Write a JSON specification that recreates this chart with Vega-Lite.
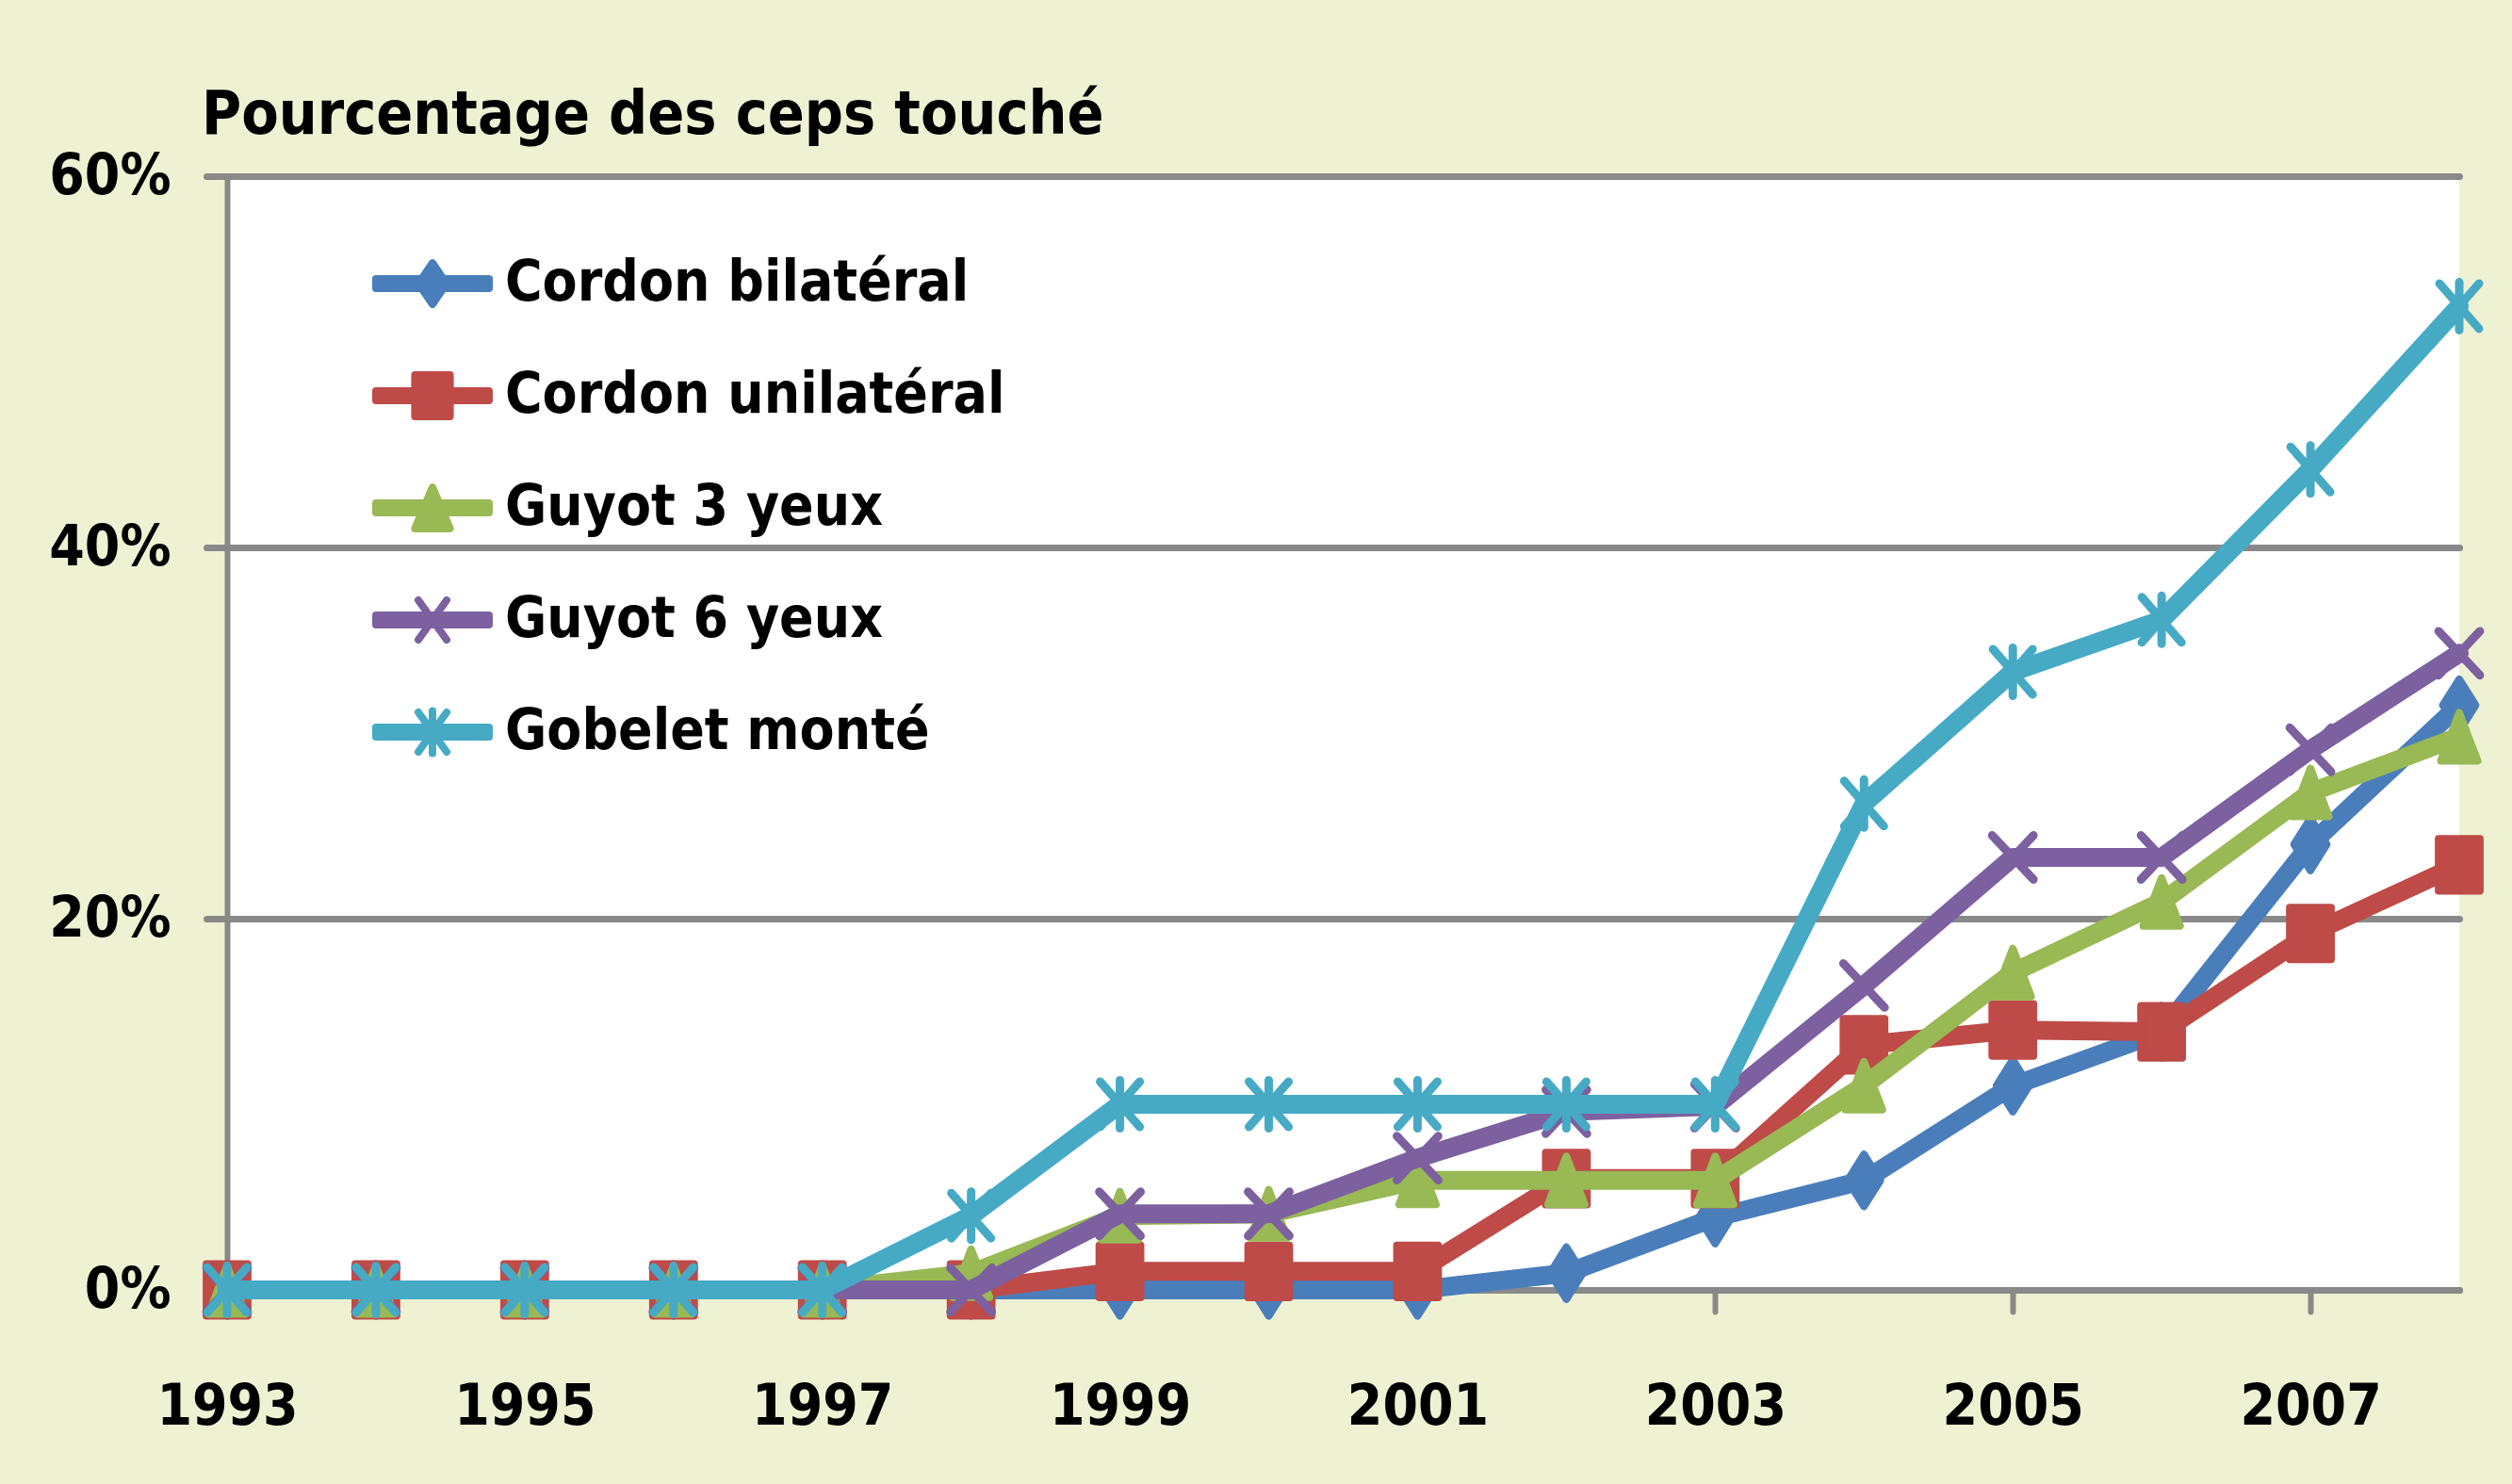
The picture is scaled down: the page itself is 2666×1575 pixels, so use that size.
{
  "$schema": "https://vega.github.io/schema/vega-lite/v6.json",
  "autosize": {"type": "none"},
  "width": 2369,
  "height": 1182,
  "padding": {"left": 241, "top": 187, "right": 56, "bottom": 206},
  "background": "#EEF2D3",
  "title": {
    "text": "Pourcentage des ceps touché",
    "anchor": "start",
    "frame": "group",
    "dx": -27,
    "offset": 2,
    "font": "DejaVu Sans Condensed, sans-serif",
    "fontSize": 64,
    "fontWeight": "bold",
    "color": "#000000"
  },
  "config": {
    "view": {"fill": "#FFFFFF", "stroke": null},
    "font": "DejaVu Sans Condensed, sans-serif"
  },
  "data": {
    "values": [
      {"year": 1993, "series": "Cordon bilatéral", "pct": 0},
      {"year": 1994, "series": "Cordon bilatéral", "pct": 0},
      {"year": 1995, "series": "Cordon bilatéral", "pct": 0},
      {"year": 1996, "series": "Cordon bilatéral", "pct": 0},
      {"year": 1997, "series": "Cordon bilatéral", "pct": 0},
      {"year": 1998, "series": "Cordon bilatéral", "pct": 0},
      {"year": 1999, "series": "Cordon bilatéral", "pct": 0},
      {"year": 2000, "series": "Cordon bilatéral", "pct": 0},
      {"year": 2001, "series": "Cordon bilatéral", "pct": 0},
      {"year": 2002, "series": "Cordon bilatéral", "pct": 0.009},
      {"year": 2003, "series": "Cordon bilatéral", "pct": 0.039},
      {"year": 2004, "series": "Cordon bilatéral", "pct": 0.059},
      {"year": 2005, "series": "Cordon bilatéral", "pct": 0.11},
      {"year": 2006, "series": "Cordon bilatéral", "pct": 0.139},
      {"year": 2007, "series": "Cordon bilatéral", "pct": 0.24},
      {"year": 2008, "series": "Cordon bilatéral", "pct": 0.315},

      {"year": 1993, "series": "Cordon unilatéral", "pct": 0},
      {"year": 1994, "series": "Cordon unilatéral", "pct": 0},
      {"year": 1995, "series": "Cordon unilatéral", "pct": 0},
      {"year": 1996, "series": "Cordon unilatéral", "pct": 0},
      {"year": 1997, "series": "Cordon unilatéral", "pct": 0},
      {"year": 1998, "series": "Cordon unilatéral", "pct": 0},
      {"year": 1999, "series": "Cordon unilatéral", "pct": 0.01},
      {"year": 2000, "series": "Cordon unilatéral", "pct": 0.01},
      {"year": 2001, "series": "Cordon unilatéral", "pct": 0.01},
      {"year": 2002, "series": "Cordon unilatéral", "pct": 0.06},
      {"year": 2003, "series": "Cordon unilatéral", "pct": 0.06},
      {"year": 2004, "series": "Cordon unilatéral", "pct": 0.132},
      {"year": 2005, "series": "Cordon unilatéral", "pct": 0.14},
      {"year": 2006, "series": "Cordon unilatéral", "pct": 0.139},
      {"year": 2007, "series": "Cordon unilatéral", "pct": 0.192},
      {"year": 2008, "series": "Cordon unilatéral", "pct": 0.229},

      {"year": 1993, "series": "Guyot 3 yeux", "pct": 0},
      {"year": 1994, "series": "Guyot 3 yeux", "pct": 0},
      {"year": 1995, "series": "Guyot 3 yeux", "pct": 0},
      {"year": 1996, "series": "Guyot 3 yeux", "pct": 0},
      {"year": 1997, "series": "Guyot 3 yeux", "pct": 0},
      {"year": 1998, "series": "Guyot 3 yeux", "pct": 0.009},
      {"year": 1999, "series": "Guyot 3 yeux", "pct": 0.04},
      {"year": 2000, "series": "Guyot 3 yeux", "pct": 0.041},
      {"year": 2001, "series": "Guyot 3 yeux", "pct": 0.059},
      {"year": 2002, "series": "Guyot 3 yeux", "pct": 0.059},
      {"year": 2003, "series": "Guyot 3 yeux", "pct": 0.059},
      {"year": 2004, "series": "Guyot 3 yeux", "pct": 0.11},
      {"year": 2005, "series": "Guyot 3 yeux", "pct": 0.171},
      {"year": 2006, "series": "Guyot 3 yeux", "pct": 0.209},
      {"year": 2007, "series": "Guyot 3 yeux", "pct": 0.268},
      {"year": 2008, "series": "Guyot 3 yeux", "pct": 0.298},

      {"year": 1993, "series": "Guyot 6 yeux", "pct": 0},
      {"year": 1994, "series": "Guyot 6 yeux", "pct": 0},
      {"year": 1995, "series": "Guyot 6 yeux", "pct": 0},
      {"year": 1996, "series": "Guyot 6 yeux", "pct": 0},
      {"year": 1997, "series": "Guyot 6 yeux", "pct": 0},
      {"year": 1998, "series": "Guyot 6 yeux", "pct": 0},
      {"year": 1999, "series": "Guyot 6 yeux", "pct": 0.041},
      {"year": 2000, "series": "Guyot 6 yeux", "pct": 0.041},
      {"year": 2001, "series": "Guyot 6 yeux", "pct": 0.071},
      {"year": 2002, "series": "Guyot 6 yeux", "pct": 0.096},
      {"year": 2003, "series": "Guyot 6 yeux", "pct": 0.099},
      {"year": 2004, "series": "Guyot 6 yeux", "pct": 0.164},
      {"year": 2005, "series": "Guyot 6 yeux", "pct": 0.233},
      {"year": 2006, "series": "Guyot 6 yeux", "pct": 0.233},
      {"year": 2007, "series": "Guyot 6 yeux", "pct": 0.291},
      {"year": 2008, "series": "Guyot 6 yeux", "pct": 0.343},

      {"year": 1993, "series": "Gobelet monté", "pct": 0},
      {"year": 1994, "series": "Gobelet monté", "pct": 0},
      {"year": 1995, "series": "Gobelet monté", "pct": 0},
      {"year": 1996, "series": "Gobelet monté", "pct": 0},
      {"year": 1997, "series": "Gobelet monté", "pct": 0},
      {"year": 1998, "series": "Gobelet monté", "pct": 0.04},
      {"year": 1999, "series": "Gobelet monté", "pct": 0.1},
      {"year": 2000, "series": "Gobelet monté", "pct": 0.1},
      {"year": 2001, "series": "Gobelet monté", "pct": 0.1},
      {"year": 2002, "series": "Gobelet monté", "pct": 0.1},
      {"year": 2003, "series": "Gobelet monté", "pct": 0.1},
      {"year": 2004, "series": "Gobelet monté", "pct": 0.262},
      {"year": 2005, "series": "Gobelet monté", "pct": 0.333},
      {"year": 2006, "series": "Gobelet monté", "pct": 0.361},
      {"year": 2007, "series": "Gobelet monté", "pct": 0.442},
      {"year": 2008, "series": "Gobelet monté", "pct": 0.53}
    ]
  },
  "encoding": {
    "x": {
      "field": "year",
      "type": "quantitative",
      "scale": {"domain": [1993, 2008], "nice": false, "zero": false},
      "axis": {
        "title": null,
        "values": [1993, 1995, 1997, 1999, 2001, 2003, 2005, 2007],
        "format": "d",
        "grid": false,
        "labelFlush": false,
        "labelOverlap": false,
        "labelBound": false,
        "labelFontSize": 60,
        "labelFontWeight": "bold",
        "labelColor": "#000000",
        "labelPadding": 72,
        "tickSize": 23,
        "tickWidth": 6,
        "tickColor": "#898989",
        "tickCap": "round",
        "domainColor": "#898989",
        "domainWidth": 7,
        "domainCap": "round"
      }
    },
    "y": {
      "field": "pct",
      "type": "quantitative",
      "scale": {"domain": [0, 0.6], "nice": false},
      "axis": {
        "title": null,
        "values": [0, 0.2, 0.4, 0.6],
        "format": ".0%",
        "grid": true,
        "gridColor": "#898989",
        "gridWidth": 7,
        "gridCap": "round",
        "labelFlush": false,
        "labelFontSize": 60,
        "labelFontWeight": "bold",
        "labelColor": "#000000",
        "labelPadding": 38,
        "tickSize": 22,
        "tickWidth": 7,
        "tickColor": "#898989",
        "tickCap": "round",
        "domainColor": "#898989",
        "domainWidth": 6
      }
    },
    "color": {
      "field": "series",
      "type": "nominal",
      "scale": {
        "domain": ["Cordon bilatéral", "Cordon unilatéral", "Guyot 3 yeux", "Guyot 6 yeux", "Gobelet monté"],
        "range": ["#4A7EBB", "#BE4B48", "#98B954", "#7D60A0", "#46AAC5"]
      },
      "legend": {
        "title": null,
        "orient": "none",
        "legendX": 184,
        "legendY": 80,
        "padding": 0,
        "labelFontSize": 60,
        "labelFontWeight": "bold",
        "labelColor": "#000000",
        "labelLimit": 0,
        "labelOffset": 43,
        "rowPadding": 55,
        "symbolSize": 3600,
        "symbolStrokeWidth": 8,
        "encode": {
          "symbols": {
            "update": {
              "shape": {"signal": "datum.value === 'Cordon bilatéral' ? 'M-2,-0.17H2V0.17H-2Z M0,-0.73L0.5,0L0,0.73L-0.5,0Z' : datum.value === 'Cordon unilatéral' ? 'M-2,-0.17H2V0.17H-2Z M-0.62,-0.73H0.62V0.73H-0.62Z' : datum.value === 'Guyot 3 yeux' ? 'M-2,-0.17H2V0.17H-2Z M0,-0.73L0.62,0.73H-0.62Z' : datum.value === 'Guyot 6 yeux' ? 'M-2,-0.17H2V0.17H-2Z M-0.5,-0.7L0.5,0.7M-0.5,0.7L0.5,-0.7' : 'M-2,-0.17H2V0.17H-2Z M-0.5,-0.7L0.5,0.7M-0.5,0.7L0.5,-0.7M0,-0.75V0.75'"},
              "fill": {"scale": "color", "field": "value"},
              "stroke": {"scale": "color", "field": "value"},
              "strokeWidth": {"value": 8},
              "strokeCap": {"value": "round"},
              "strokeJoin": {"value": "round"},
              "opacity": {"value": 1},
              "fillOpacity": {"value": 1},
              "strokeOpacity": {"value": 1}
            }
          }
        }
      }
    }
  },
  "layer": [
    {
      "transform": [{"filter": "datum.series === 'Cordon bilatéral'"}],
      "layer": [
        {"mark": {"type": "line", "strokeWidth": 20, "strokeJoin": "round", "strokeCap": "round"}},
        {"mark": {"type": "point", "filled": true, "opacity": 1, "size": 3600, "shape": "M0,-0.92L0.58,0L0,0.92L-0.58,0Z", "stroke": "#4A7EBB", "strokeWidth": 8, "strokeJoin": "round", "strokeCap": "round"}}
      ]
    },
    {
      "transform": [{"filter": "datum.series === 'Cordon unilatéral'"}],
      "layer": [
        {"mark": {"type": "line", "strokeWidth": 20, "strokeJoin": "round", "strokeCap": "round"}},
        {"mark": {"type": "point", "filled": true, "opacity": 1, "size": 3600, "shape": "M-0.73,-0.92H0.73V0.92H-0.73Z", "stroke": "#BE4B48", "strokeWidth": 8, "strokeJoin": "round", "strokeCap": "round"}}
      ]
    },
    {
      "transform": [{"filter": "datum.series === 'Guyot 3 yeux'"}],
      "layer": [
        {"mark": {"type": "line", "strokeWidth": 20, "strokeJoin": "round", "strokeCap": "round"}},
        {"mark": {"type": "point", "filled": true, "opacity": 1, "size": 3600, "shape": "M0,-0.85L0.65,0.85H-0.65Z", "stroke": "#98B954", "strokeWidth": 8, "strokeJoin": "round", "strokeCap": "round"}}
      ]
    },
    {
      "transform": [{"filter": "datum.series === 'Guyot 6 yeux'"}],
      "layer": [
        {"mark": {"type": "line", "strokeWidth": 20, "strokeJoin": "round", "strokeCap": "round"}},
        {"mark": {"type": "point", "filled": true, "opacity": 1, "size": 3600, "shape": "M-0.73,-0.78L0.73,0.78M-0.73,0.78L0.73,-0.78", "stroke": "#7D60A0", "strokeWidth": 9, "strokeJoin": "round", "strokeCap": "round"}}
      ]
    },
    {
      "transform": [{"filter": "datum.series === 'Gobelet monté'"}],
      "layer": [
        {"mark": {"type": "line", "strokeWidth": 20, "strokeJoin": "round", "strokeCap": "round"}},
        {"mark": {"type": "point", "filled": true, "opacity": 1, "size": 3600, "shape": "M-0.7,-0.8L0.7,0.8M-0.7,0.8L0.7,-0.8M0,-0.85V0.85", "stroke": "#46AAC5", "strokeWidth": 9, "strokeJoin": "round", "strokeCap": "round"}}
      ]
    }
  ]
}
